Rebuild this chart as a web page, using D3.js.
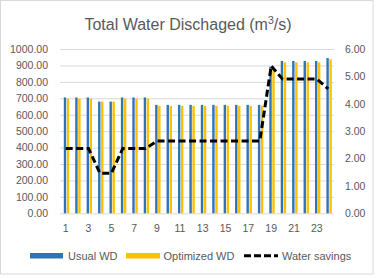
<!DOCTYPE html>
<html>
<head>
<meta charset="utf-8">
<script src="https://cdn.jsdelivr.net/npm/d3@7"></script>
<style>
  body { margin: 0; background: #fff; }
  svg { display: block; font-family: "Liberation Sans", Arial, sans-serif; }
  .tick text { fill: #595959; }
</style>
</head>
<body>
<div class="chart"></div>
<script>
// data
const hours = d3.range(1, 25);
const usualWD = [705, 705, 705, 680, 680, 705, 705, 705,
  660, 660, 660, 660, 660, 660, 660, 660, 660, 660,
  892, 927, 927, 927, 927, 945];
const optimizedWD = [698, 698, 698, 680, 680, 698, 698, 698,
  654, 654, 654, 654, 654, 654, 654, 654, 654, 654,
  885, 919, 919, 919, 919, 937];
const waterSavings = [2.37, 2.37, 2.37, 1.46, 1.46, 2.37, 2.37, 2.37,
  2.64, 2.64, 2.64, 2.64, 2.64, 2.64, 2.64, 2.64, 2.64, 2.64,
  5.38, 4.9, 4.9, 4.9, 4.9, 4.54];
const leftTicks = d3.range(0, 1001, 100);
const rightTicks = d3.range(0, 7, 1);

const W = 377, H = 278;
const plot = { left: 60, right: 334, top: 49, bottom: 213.3 };
const blue = '#2e75b6', yellow = '#ffc000', grey = '#595959';

const svg = d3.select('.chart')
  .append('svg')
  .attr('width', W)
  .attr('height', H);

// chart border
svg.append('rect')
  .attr('x', 0.5).attr('y', 0.5)
  .attr('width', 372.5).attr('height', 273.5)
  .attr('fill', '#fff')
  .attr('stroke', '#d9d9d9');

const x = d3.scaleBand()
  .domain(hours)
  .range([plot.left, plot.right]);

const yL = d3.scaleLinear().domain([0, 1000]).range([plot.bottom, plot.top]);
const yR = d3.scaleLinear().domain([0, 6]).range([plot.bottom, plot.top]);

// gridlines + left axis
const leftAxis = svg.append('g')
  .attr('transform', `translate(${plot.left},0)`)
  .call(d3.axisLeft(yL)
    .tickValues(leftTicks)
    .tickFormat(d3.format('.2f'))
    .tickSize(-(plot.right - plot.left))
    .tickPadding(12));
leftAxis.select('.domain').remove();
leftAxis.selectAll('line').attr('stroke', '#d9d9d9');
leftAxis.selectAll('text').attr('font-size', 10.5).attr('x', -12);

const rightAxis = svg.append('g')
  .attr('transform', `translate(${plot.right},0)`)
  .call(d3.axisRight(yR)
    .tickValues(rightTicks)
    .tickFormat(d3.format('.2f'))
    .tickSize(0)
    .tickPadding(11));
rightAxis.select('.domain').remove();
rightAxis.selectAll('text').attr('font-size', 10.5);

const bottomAxis = svg.append('g')
  .attr('transform', `translate(0,${plot.bottom})`)
  .call(d3.axisBottom(x)
    .tickValues(hours.filter(d => d % 2 === 1))
    .tickSize(0)
    .tickPadding(11));
bottomAxis.select('.domain').remove();
bottomAxis.selectAll('text').attr('font-size', 10.5);

// bars
const barW = 2.4;
svg.append('g').selectAll('rect')
  .data(usualWD)
  .enter()
  .append('rect')
  .attr('x', (d, i) => x(hours[i]) + x.bandwidth() / 2 - barW + 0.5)
  .attr('y', d => yL(d))
  .attr('width', barW)
  .attr('height', d => plot.bottom - yL(d))
  .attr('fill', blue);

svg.append('g').selectAll('rect')
  .data(optimizedWD)
  .enter()
  .append('rect')
  .attr('x', (d, i) => x(hours[i]) + x.bandwidth() / 2 + 1.1)
  .attr('y', d => yL(d))
  .attr('width', barW)
  .attr('height', d => plot.bottom - yL(d))
  .attr('fill', yellow);

// savings line
const line = d3.line()
  .x((d, i) => x(hours[i]) + x.bandwidth() / 2)
  .y(d => yR(d));

svg.append('path')
  .datum(waterSavings)
  .attr('d', line)
  .attr('fill', 'none')
  .attr('stroke', '#000')
  .attr('stroke-width', 3)
  .attr('stroke-dasharray', '7,3.5');

// title
const title = svg.append('text')
  .attr('x', 188)
  .attr('y', 29.5)
  .attr('text-anchor', 'middle')
  .attr('font-size', 16)
  .attr('fill', grey);
title.append('tspan').text('Total Water Dischaged (m');
title.append('tspan').text('3').attr('font-size', 10.5).attr('dy', -6);
title.append('tspan').text('/s)').attr('dy', 6);

// legend
const legend = svg.append('g').attr('font-size', 11).attr('fill', grey);
legend.append('rect').attr('x', 30).attr('y', 253).attr('width', 33).attr('height', 5.5).attr('fill', blue);
legend.append('text').attr('x', 68).attr('y', 259.5).text('Usual WD');
legend.append('rect').attr('x', 126).attr('y', 253).attr('width', 34).attr('height', 5.5).attr('fill', yellow);
legend.append('text').attr('x', 163.5).attr('y', 259.5).text('Optimized WD');
legend.append('line')
  .attr('x1', 244).attr('x2', 278).attr('y1', 255.8).attr('y2', 255.8)
  .attr('stroke', '#000').attr('stroke-width', 3).attr('stroke-dasharray', '7,3');
legend.append('text').attr('x', 282).attr('y', 259.5).text('Water savings');
</script>
</body>
</html>
